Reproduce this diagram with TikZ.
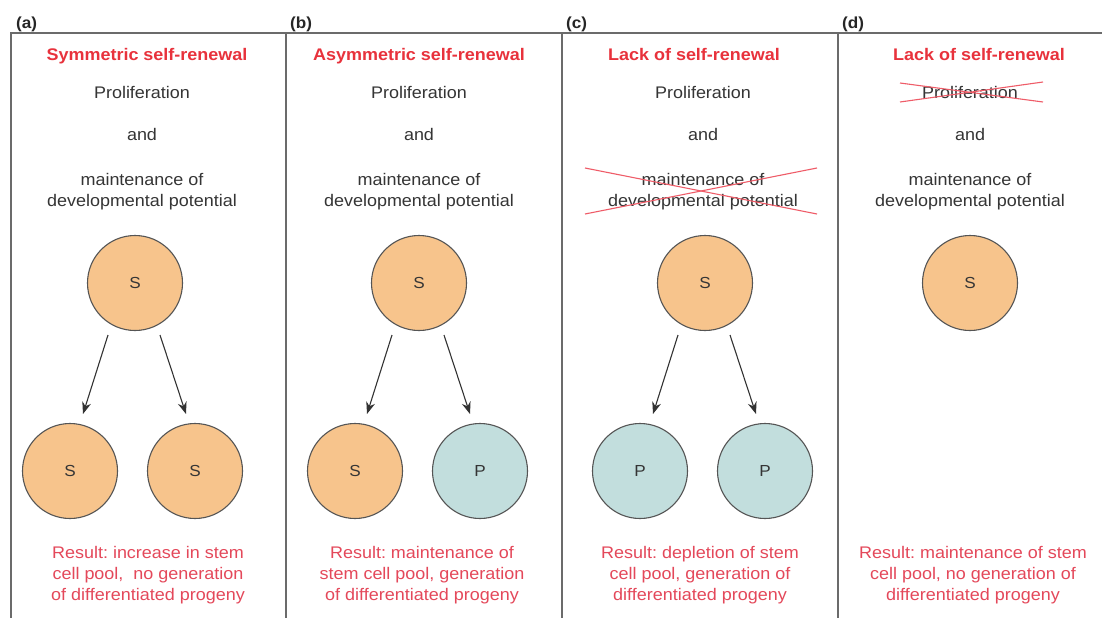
\documentclass[tikz,border=0pt]{standalone}
\usepackage{fontspec}
\setmainfont{Liberation Sans}[FakeStretch=1.07]
\usetikzlibrary{arrows.meta}
\frenchspacing
\definecolor{frame}{HTML}{6B6B6B}
\definecolor{bodytxt}{HTML}{353535}
\definecolor{titlered}{HTML}{E8323C}
\definecolor{resred}{HTML}{E4485A}
\definecolor{crossred}{HTML}{EF5C68}
\definecolor{stemfill}{HTML}{F7C48C}
\definecolor{progfill}{HTML}{C2DEDD}
\definecolor{cellline}{HTML}{555555}
\begin{document}
\begin{tikzpicture}[x=1pt,y=-1pt,
  txt/.style={font=\fontsize{16.8}{21}\selectfont, text=bodytxt, inner sep=0pt, align=center},
  ttl/.style={font=\fontsize{16.8}{21}\selectfont\bfseries, text=titlered, inner sep=0pt, anchor=base},
  lbl/.style={font=\fontsize{16}{20}\selectfont\bfseries, text=black!85, inner sep=0pt, anchor=base west},
  res/.style={font=\fontsize{16.8}{21}\selectfont, text=resred, inner sep=0pt, align=center},
  cellS/.style={circle, draw=cellline, line width=1.1pt, fill=stemfill, minimum size=95pt, inner sep=0pt, font=\fontsize{16}{18}\selectfont, text=bodytxt},
  cellP/.style={cellS, fill=progfill},
  arr/.style={draw=black!80, line width=1.1pt, -{Stealth[length=12pt,width=9pt]}},
  frm/.style={draw=frame, line width=1.2pt},
  crs/.style={draw=crossred, line width=1.1pt}
]
\useasboundingbox (0,0) rectangle (1102,618);
\fill[white] (0,0) rectangle (1102,618);

% frame
\coordinate (ftl) at (10,33);
\coordinate (ftr) at (1102,33);
\draw[frm] (ftl) -- (ftr);
\foreach \x/\n in {11/f0,286/f1,562/f2,838/f3}{
  \coordinate (\n t) at (\x,33);
  \coordinate (\n b) at (\x,618);
  \draw[frm] (\n t) -- (\n b);
}

% panel labels
\node[lbl] (la) at (16,29) {(a)};
\node[lbl] (lb) at (290,29) {(b)};
\node[lbl] (lc) at (566,29) {(c)};
\node[lbl] (ld) at (842,29) {(d)};

% titles
\node[ttl] (ta) at (147,60) {Symmetric self-renewal};
\node[ttl] (tb) at (419,60) {Asymmetric self-renewal};
\node[ttl] (tc) at (694,60) {Lack of self-renewal};
\node[ttl] (td) at (979,60) {Lack of self-renewal};

% Proliferation / and / maintenance
\foreach \c/\n in {142/a,419/b,703/c,970/d}{
  \node[txt, anchor=base] (pro\n) at (\c,98) {Proliferation};
  \node[txt, anchor=base] (and\n) at (\c,140) {and};
  \node[txt] (mnt\n) at (\c,192) {maintenance of\\developmental potential};
}

% cross-outs
\coordinate (xc1) at (585,168); \coordinate (xc2) at (817,214);
\coordinate (xc3) at (585,214); \coordinate (xc4) at (817,168);
\draw[crs] (xc1) -- (xc2);
\draw[crs] (xc3) -- (xc4);
\coordinate (xd1) at (900,83); \coordinate (xd2) at (1043,102);
\coordinate (xd3) at (900,102); \coordinate (xd4) at (1043,82);
\draw[crs] (xd1) -- (xd2);
\draw[crs] (xd3) -- (xd4);

% cells
\node[cellS] (sa) at (135,283) {S};
\node[cellS] (sa1) at (70,471) {S};
\node[cellS] (sa2) at (195,471) {S};

\node[cellS] (sb) at (419,283) {S};
\node[cellS] (sb1) at (355,471) {S};
\node[cellP] (pb2) at (480,471) {P};

\node[cellS] (sc) at (705,283) {S};
\node[cellP] (pc1) at (640,471) {P};
\node[cellP] (pc2) at (765,471) {P};

\node[cellS] (sd) at (970,283) {S};

% arrows
\foreach \c/\n in {135/a,419/b,705/c}{
  \coordinate (\n ls) at (\c-27,335);
  \coordinate (\n le) at (\c-52,414);
  \coordinate (\n rs) at (\c+25,335);
  \coordinate (\n re) at (\c+51,414);
  \draw[arr] (\n ls) -- (\n le);
  \draw[arr] (\n rs) -- (\n re);
}

% results
\node[res] (ra) at (148,575) {Result: increase in stem\\cell pool,\ \ no generation\\of differentiated progeny};
\node[res] (rb) at (422,575) {Result: maintenance of\\stem cell pool, generation\\of differentiated progeny};
\node[res] (rc) at (700,575) {Result: depletion of stem\\cell pool, generation of\\differentiated progeny};
\node[res] (rd) at (973,575) {Result: maintenance of stem\\cell pool, no generation of\\differentiated progeny};
\end{tikzpicture}
\end{document}
